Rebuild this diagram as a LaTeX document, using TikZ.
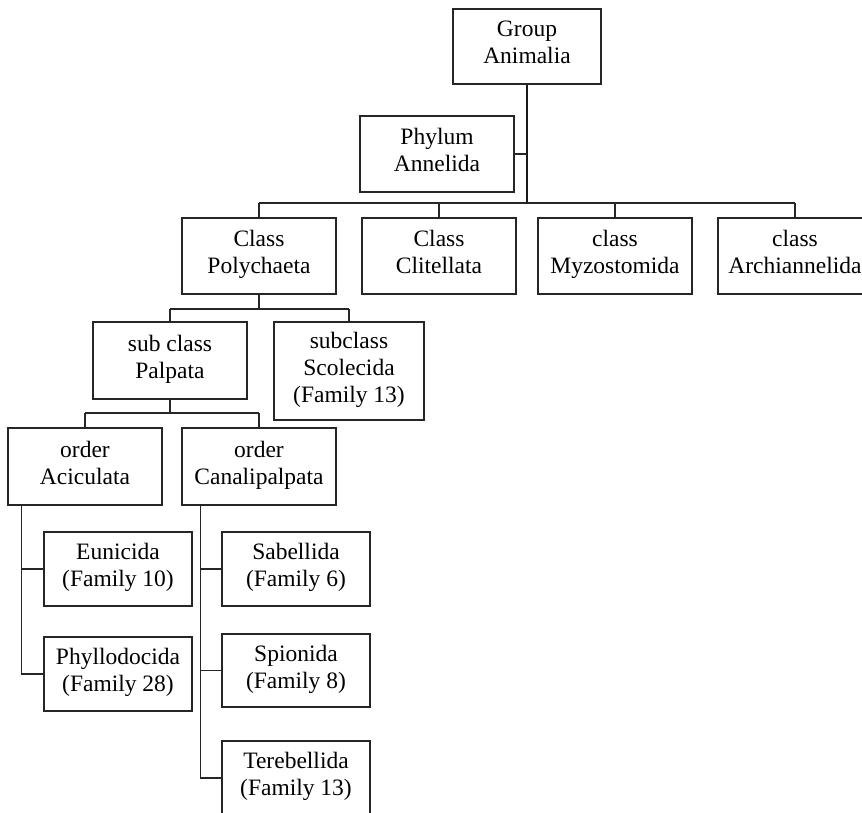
\documentclass[tikz,border=0pt]{standalone}
\usepackage{fontspec}
\setmainfont{Liberation Serif}
\begin{document}
\begin{tikzpicture}[x=1pt,y=-1pt,
  box/.style={draw=black!85, line width=1.1pt, rectangle, inner sep=0pt, align=center,
    minimum width=154pt, minimum height=76pt, font=\fontsize{23.5}{27}\selectfont,
    execute at begin node={\strut}, execute at end node={\strut}},
  sbox/.style={box, minimum width=148pt, minimum height=74pt},
  conn/.style={draw=black!85, line width=1.1pt},
  trunk/.style={draw=black!90, line width=1.6pt}]
\useasboundingbox (0,0) rectangle (862,812);
\clip (0,0) rectangle (862,812);
% level 0-1
\node[box, minimum width=148pt, minimum height=75pt] (group) at (527,46.5) {Group\\Animalia};
\node[box] (phylum) at (437,154) {Phylum\\Annelida};
% classes
\node[box] (poly) at (259,256) {Class\\Polychaeta};
\node[box] (clit) at (439,256) {Class\\Clitellata};
\node[box] (myzo) at (615,256) {class\\Myzostomida};
\node[box] (arch) at (795,256) {class\\Archiannelida};
% subclasses
\node[box, minimum height=77pt] (palp) at (170,360.5) {sub class\\Palpata};
\node[box, minimum width=150pt, minimum height=98pt] (scol) at (349,371) {subclass\\Scolecida\\(Family 13)};
% orders
\node[box, minimum height=77pt] (acic) at (85,466.5) {order\\Aciculata};
\node[box, minimum height=77pt] (cana) at (259,466.5) {order\\Canalipalpata};
% families
\node[sbox] (euni) at (118,569) {Eunicida\\(Family 10)};
\node[sbox] (phyl) at (118,674) {Phyllodocida\\(Family 28)};
\node[sbox] (sabe) at (296,569) {Sabellida\\(Family 6)};
\node[sbox, minimum height=73pt] (spio) at (296,670.5) {Spionida\\(Family 8)};
\node[sbox] (tere) at (296,778) {Terebellida\\(Family 13)};
% helper coordinates
\coordinate (bus1) at (0,203);
\coordinate (bus2) at (0,309);
\coordinate (bus3) at (0,413);
\coordinate (aT) at ([xshift=14pt]acic.south west);
\coordinate (cT) at ([xshift=19pt]cana.south west);
% connectors
\draw[trunk] (group.south) -- (group.south |- bus1);
\draw[conn] (phylum.east) -- (phylum.east -| group.south);
\draw[conn] (poly.north |- bus1) -- (arch.north |- bus1);
\draw[conn] (poly.north |- bus1) -- (poly.north);
\draw[conn] (clit.north |- bus1) -- (clit.north);
\draw[conn] (myzo.north |- bus1) -- (myzo.north);
\draw[conn] (arch.north |- bus1) -- (arch.north);
\draw[conn] (poly.south) -- (poly.south |- bus2);
\draw[conn] (palp.north |- bus2) -- (scol.north |- bus2);
\draw[conn] (palp.north |- bus2) -- (palp.north);
\draw[conn] (scol.north |- bus2) -- (scol.north);
\draw[conn] (palp.south) -- (palp.south |- bus3);
\draw[conn] (acic.north |- bus3) -- (cana.north |- bus3);
\draw[conn] (acic.north |- bus3) -- (acic.north);
\draw[conn] (cana.north |- bus3) -- (cana.north);
\draw[conn] (aT) |- (euni.west);
\draw[conn] (aT) |- (phyl.west);
\draw[conn] (cT) |- (sabe.west);
\draw[conn] (cT) |- (spio.west);
\draw[conn] (cT) |- (tere.west);
\end{tikzpicture}
\end{document}
